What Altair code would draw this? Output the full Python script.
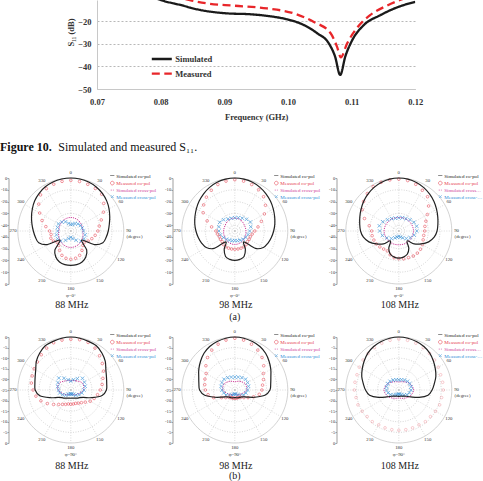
import altair as alt
import pandas as pd

SERIF = "Liberation Serif"

# ---------------- Figure 10 : S11 ----------------
S11_SERIES = ["Simulated", "Measured"]
S11_FREQ_SIM = [0.0780, 0.0800, 0.0831, 0.0862, 0.0904, 0.0941, 0.0967, 0.0998, 0.1019, 0.1046,
                0.1064, 0.1074, 0.1082, 0.1090, 0.1101, 0.1119, 0.1145, 0.1171, 0.1200]
S11_DB_SIM = [-8.5, -10.7, -12.9, -15.1, -16.6, -17.0, -17.7, -19.2, -21.0, -25.4,
              -29.8, -35.7, -43.8, -35.7, -28.4, -21.8, -17.4, -14.0, -11.5]
S11_FREQ_MEAS = [0.0820, 0.0849, 0.0873, 0.0915, 0.0967, 0.1009, 0.1040, 0.1067, 0.1077, 0.1083,
                 0.1093, 0.1108, 0.1129, 0.1156, 0.1176, 0.1200]
S11_DB_MEAS = [-9.0, -11.0, -12.2, -13.2, -14.4, -16.6, -20.3, -25.4, -31.3, -36.0,
               -29.8, -23.2, -17.4, -13.1, -10.7, -8.5]
S11_X_TICKS = [0.07, 0.08, 0.09, 0.10, 0.11, 0.12]
S11_Y_TICKS = [-50, -40, -30, -20]

# ---------------- radiation patterns ----------------
POL_SERIES = ["Simulated co-pol", "Measured co-pol", "Simulated cross-pol", "Measured cross-pol"]
FREQ_LABELS = ["88 MHz", "98 MHz", "108 MHz"]
PHI_LABELS = ["φ=0°", "φ=90°"]
ROW_LABELS = ["(a)", "(b)"]
ANG_CO = list(range(0, 360, 10))
ANG_MX = list(range(0, 360, 15))
ANG_SX = list(range(0, 360, 30))
ANGLE_LABELS = list(range(0, 360, 30))
RINGS_A = [0, -10, -20, -30, -40]
RINGS_B = [0, -5, -10, -15, -20]
CENTRE_A = -45.0
CENTRE_B = -25.0

# row (a): phi = 0 deg
A88_SIM_CO = [0, -0.2, -0.8, -1.8, -3.3, -5.2, -7.5, -9.8, -11.8, -13.2,
              -14.5, -16, -22, -33, -24, -19.5, -17, -16, -15.8,
              -16, -17, -19.5, -24, -33, -22, -16, -14.5, -13.2,
              -11.5, -9.5, -7.3, -5.0, -3.2, -1.7, -0.7, -0.2]
A88_MEAS_CO = [-2, -2.3, -2.8, -3.3, -4.2, -8.5, -13, -17.5, -20.5, -22,
               -24, -26, -28, -30, -29, -26, -23, -21.5, -21,
               -21.5, -23, -26, -29, -30, -28, -27, -28, -27,
               -23.5, -19, -14.5, -9.5, -5, -3.5, -2.7, -2.2]
A88_SIM_X = [-33.5, -33.8, -34.5, -34.8, -33.5, -31.8, -31, -31.8, -33.5, -34.8, -34.5, -33.8]
A88_MEAS_X = [-39.5, -39, -37.8, -36.5, -35.5, -35, -34.2, -32.4, -32, -32.9, -36, -38.3,
              -39.6, -38.3, -36, -32.9, -32, -32.4, -33.8, -33.3, -32.9, -34.2, -36, -38.3]

A98_SIM_CO = [0, -0.3, -1, -2.2, -3.8, -5.5, -7.3, -9, -10.5, -12,
              -13.5, -15, -17, -22, -33, -27, -22, -20.5, -20,
              -20.5, -22, -27, -33, -22, -17, -15, -13.5, -12,
              -10.5, -9, -7.3, -5.5, -3.8, -2.2, -1, -0.3]
A98_MEAS_CO = [-1.5, -2, -3, -4.5, -7, -11, -16, -21, -25, -28,
               -30, -31, -31, -31, -30, -29.5, -29.5, -29.5, -29.5,
               -29.5, -29.5, -29.5, -30, -31, -31, -31, -30, -29,
               -25, -20, -14, -10.5, -7.5, -5, -3, -2]
A98_SIM_X = [-34, -34.5, -35.5, -35.5, -35, -34, -33.5, -34, -35, -35.5, -35.5, -34.5]
A98_MEAS_X = [-33.8, -33.3, -32.4, -31, -29.7, -31, -32.4, -33.3, -34.2, -35.1, -36, -36.5,
              -36.9, -36.5, -36, -35.1, -33.8, -32.4, -31.5, -31, -30.2, -31.5, -33.3, -33.8]

A108_SIM_CO = [0, -0.3, -1.2, -2.5, -4.2, -6, -8, -9.8, -11.3, -12.5,
               -14.5, -18, -23, -28, -34, -28, -24, -22.5, -22,
               -22.5, -24, -28, -34, -28, -23, -18, -14.5, -12.5,
               -11.3, -9.8, -8, -6, -4.2, -2.5, -1.2, -0.3]
A108_MEAS_CO = [-1, -1.5, -2.8, -5, -7, -12, -17, -20.5, -22.5, -23,
                -23.5, -23, -22, -21, -20.5, -20.5, -21, -21, -21.5,
                -22, -23.5, -25.5, -25, -24, -23, -22.5, -22, -22,
                -19.5, -14, -9, -6, -3.5, -1.5, -1, -1]
A108_SIM_X = [-33.5, -33.2, -32.8, -32.5, -32.8, -33, -33.3, -33, -32.8, -32.5, -32.8, -33.2]
A108_MEAS_X = [-33.8, -33.3, -32.9, -31.5, -30.2, -29.3, -29.7, -31.5, -33.8, -36, -38.3, -39.6,
               -40.5, -39.6, -38.3, -36, -33.3, -30.6, -28.8, -27.9, -29.3, -31.5, -32.9, -33.8]

# row (b): phi = 90 deg
B88_SIM_CO = [0, -0.2, -0.6, -0.9, -2.2, -3.8, -5.9, -7.1, -7.8, -8.2,
              -10, -14.4, -18, -19.4, -20, -20.6, -20.9, -21.1, -21.1,
              -21.1, -20.9, -20.6, -20, -19.4, -18, -14.4, -10, -8.2,
              -7.8, -7.1, -5.9, -3.8, -2.2, -0.9, -0.6, -0.2]
B88_MEAS_CO = [-1.1, -0.9, -1.1, -2.2, -3.9, -5.6, -7.2, -8.9, -10, -11.1,
               -12.2, -13.3, -14.4, -16.1, -17.2, -17.8, -18.3, -18.3, -18.3,
               -18.3, -17.8, -17.2, -16.1, -14.4, -12.2, -10, -8.3, -7.2,
               -6.1, -5.6, -5, -4.4, -3.3, -2.2, -1.3, -1.1]
B88_SIM_X = [-20.6, -20, -18.6, -19, -21.2, -22.4, -23, -22.4, -21.2, -19, -18.6, -20]
B88_MEAS_X = [-20.8, -20, -18.8, -17.2, -17.6, -18, -18.8, -19.6, -20.6, -21.6, -22.6, -23,
              -23.2, -23, -22.6, -21.6, -20.6, -19.6, -19.2, -18.6, -18, -17, -18.6, -20]

B98_SIM_CO = [0, -0.2, -0.7, -1.3, -2.4, -3.9, -5.4, -6.9, -7.8, -8.4,
              -10.6, -15, -18.3, -20, -20.6, -20.9, -21.1, -21.3, -21.4,
              -21.3, -21.1, -20.9, -20.6, -20, -18.3, -15, -10.6, -8.4,
              -7.8, -6.9, -5.4, -3.9, -2.4, -1.3, -0.7, -0.2]
B98_MEAS_CO = [-0.6, -1.1, -2, -3.3, -5, -7.2, -9.4, -10.6, -11.7, -12.2,
               -13.3, -15.6, -17.8, -19.4, -20.6, -21.1, -21.1, -21.1, -21.1,
               -21.1, -21.1, -21.1, -20.6, -19.4, -17.8, -14.4, -12.2, -11.1,
               -10.6, -10, -9.4, -7.2, -5, -3.3, -2, -1.1]
B98_SIM_X = [-21.1, -20.3, -19.2, -19.4, -21.4, -22.6, -23.1, -22.6, -21.4, -19.4, -19.2, -20.3]
B98_MEAS_X = [-18.9, -18.7, -18.3, -17.8, -18, -18.3, -18.9, -19.6, -20.3, -21.3, -22.2, -22.9,
              -23.1, -22.9, -22.2, -21.3, -20.3, -19.6, -18.9, -18.3, -18, -17.8, -18.3, -18.7]

B108_SIM_CO = [0, -0.2, -0.7, -1.3, -2.3, -3.7, -5.1, -6.4, -8.0, -9.3,
               -11, -14.8, -18.5, -20.4, -21.2, -21.6, -21.9, -22, -22,
               -22, -21.9, -21.6, -21.2, -20.4, -18.5, -14.8, -11, -9.3,
               -8.0, -6.4, -5.1, -3.7, -2.3, -1.3, -0.7, -0.2]
B108_MEAS_CO = [-1, -1.2, -1.5, -2, -2.5, -3, -3.5, -4, -4, -4,
                -4.5, -4.5, -5, -5.5, -5.5, -6, -6, -6, -6,
                -6, -6, -6, -5.5, -5.5, -5, -4.5, -4.5, -4,
                -4, -4, -3.5, -3, -2.5, -2, -1.5, -1.2]
B108_SIM_X = [-21.2, -20.5, -19, -18, -19, -20.5, -21.2, -20.5, -19, -18, -19, -20.5]
B108_MEAS_X = [-20.2, -20, -19.6, -19.2, -19, -19, -19.2, -19.8, -20.6, -21.6, -22.4, -22.9,
               -23.1, -22.9, -22.4, -21.6, -20.6, -19.8, -19.2, -19, -19, -19.2, -19.6, -20]

# ---------------- styling ----------------
BLACK = "#222222"
RED = "#e6404f"
MAGENTA = "#cf3e9a"
BLUE = "#2f8fd8"
X_PATH = "M-1,-1L1,1M-1,1L1,-1"
POL_COLORS = [BLACK, RED, MAGENTA, BLUE]
POL_SHAPES = ["stroke", "circle", "stroke", X_PATH]
POL_DASHES = [[1, 0], [1, 0], [1.2, 1], [1, 0]]
POL_SIZES = [16, 7, 16, 12]
LABEL_FILL = ("datum.value == 'Measured co-pol' ? '%s' : datum.value == 'Simulated cross-pol' ? '%s' : "
              "datum.value == 'Measured cross-pol' ? '%s' : '%s'" % (RED, MAGENTA, BLUE, BLACK))

R = 53.0      # pixels per unit radius
CX = 70.8     # circle centre inside a panel
PANEL_W = [164, 164, 155]
PANEL_H = 106


def dummy():
    return alt.Chart(pd.DataFrame({"k": [0]}))


def anchor(top, bottom):
    # invisible vertical rule that fixes the vertical extent of a row
    return dummy().mark_rule(opacity=0, strokeWidth=0.01).encode(
        x=alt.value(0), y=alt.value(top), y2=alt.value(bottom))


def polar_panel(sim_co, meas_co, sim_x, meas_x, centre, rings, centre_tick, phi, freq, width,
                label_limit, freq_dy, row_label=None, row_dy=0, co_opacity=0.9, band=None):
    span = -centre
    xs = alt.Scale(domain=[-CX / R, (width - CX) / R], nice=False, zero=False)
    ys = alt.Scale(domain=[-1, 1], nice=False, zero=False)
    ticks = [(rv + span) / span for rv in rings] + [-(rv + span) / span for rv in rings]
    if centre_tick:
        ticks.append(0)
    ticks = sorted(ticks)
    yaxis = alt.Axis(values=ticks, labelExpr=f"round(abs(datum.value) * {span} - {span})",
                     offset=-8.5, title=None, grid=False, domainColor="#777", domainWidth=0.7,
                     tickColor="#777", tickSize=1.5, tickWidth=0.6, labelFont=SERIF,
                     labelFontSize=4.6, labelColor="#333", labelPadding=0.3,
                     labelOverlap=False, labelFlush=False)

    def X(f):
        return alt.X(f"{f}:Q", scale=xs, axis=None)

    def Y(f):
        return alt.Y(f"{f}:Q", scale=ys, axis=yaxis)

    def xy(df, r_expr):
        return (alt.Chart(df).transform_calculate(r=r_expr)
                .transform_calculate(x="datum.r * sin(datum.ang * PI / 180)",
                                     y="datum.r * cos(datum.ang * PI / 180)"))

    db_r = f"max(0, (datum.db + {span}) / {span})"

    ring_df = pd.DataFrame([(rv, a) for rv in rings for a in range(0, 361, 4)], columns=["db", "ang"])
    ring_base = xy(ring_df, db_r)
    outer = ring_base.transform_filter("datum.db == 0").mark_line(
        color="#b5b5b5", strokeWidth=0.6).encode(x=X("x"), y=Y("y"), order="ang:Q", detail="db:N")
    inner = ring_base.transform_filter("datum.db != 0").mark_line(
        color="#bbbbbb", strokeWidth=0.6, strokeDash=[1, 1.5]).encode(
        x=X("x"), y=Y("y"), order="ang:Q", detail="db:N")

    spokes = alt.Chart(pd.DataFrame({"ang": ANGLE_LABELS})).transform_calculate(
        x0="0", y0="0", x1="sin(datum.ang * PI / 180)", y1="cos(datum.ang * PI / 180)"
    ).mark_rule(color="#c4c4c4", strokeWidth=0.6, strokeDash=[1, 1.5]).encode(
        x=X("x0"), y=Y("y0"), x2="x1:Q", y2="y1:Q")

    lab_base = xy(pd.DataFrame({"ang": ANGLE_LABELS}), "1.09")
    txt = dict(font=SERIF, fontSize=4.8, color="#333")
    layers = [outer, inner, spokes,
              lab_base.mark_text(**txt).encode(x=X("x"), y=Y("y"), text=alt.Text("ang:Q", format="d")),
              lab_base.transform_filter("datum.ang == 90").mark_text(
                  align="left", dx=-2, dy=6, text="(degree)", **txt).encode(x=X("x"), y=Y("y")),
              lab_base.transform_filter("datum.ang == 180").mark_text(
                  dy=7, text=phi, **txt).encode(x=X("x"), y=Y("y")),
              lab_base.transform_filter("datum.ang == 180").mark_text(
                  dy=freq_dy, dx=1, text=freq, font=SERIF, fontSize=10, color=BLACK,
                  baseline="middle").encode(x=X("x"), y=Y("y"))]
    if row_label:
        layers.append(lab_base.transform_filter("datum.ang == 180").mark_text(
            dy=row_dy, text=row_label, font=SERIF, fontSize=10, color=BLACK,
            baseline="middle").encode(x=X("x"), y=Y("y")))

    layers += [
        xy(pd.DataFrame({"ang": ANG_SX, "db": sim_x}), db_r).mark_line(
            interpolate="cardinal-closed", color=MAGENTA, strokeWidth=1.0, strokeDash=[1.2, 1]).encode(
            x=X("x"), y=Y("y"), order="ang:Q"),
        xy(pd.DataFrame({"ang": ANG_MX, "db": meas_x}), db_r).mark_point(
            shape=X_PATH, filled=False, size=12, strokeWidth=0.9, color=BLUE).encode(
            x=X("x"), y=Y("y")),
        xy(pd.DataFrame({"ang": ANG_CO, "db": meas_co}), db_r).mark_point(
            shape="circle", filled=False, size=7, strokeWidth=0.6, color=RED, opacity=co_opacity).encode(
            x=X("x"), y=Y("y")),
        xy(pd.DataFrame({"ang": ANG_CO, "db": sim_co}), db_r).mark_line(
            interpolate="cardinal-closed", color=BLACK, strokeWidth=1.2).encode(
            x=X("x"), y=Y("y"), order="ang:Q"),
    ]

    leg = alt.Legend(title=None, orient="none", legendX=CX + 39, legendY=-5, padding=0,
                     labelFont=SERIF, labelFontSize=5.0, labelLimit=label_limit, labelOffset=1.5,
                     rowPadding=-0.4, symbolStrokeWidth=0.9, labelColor={"expr": LABEL_FILL})
    layers.append(alt.Chart(pd.DataFrame({"s": POL_SERIES})).transform_filter(
        "datum.s == 'none'").mark_point(filled=False, strokeWidth=0.9).encode(
        color=alt.Color("s:N", scale=alt.Scale(domain=POL_SERIES, range=POL_COLORS), legend=leg),
        shape=alt.Shape("s:N", scale=alt.Scale(domain=POL_SERIES, range=POL_SHAPES), legend=leg),
        strokeDash=alt.StrokeDash("s:N", scale=alt.Scale(domain=POL_SERIES, range=POL_DASHES), legend=leg),
        size=alt.Size("s:N", scale=alt.Scale(domain=POL_SERIES, range=POL_SIZES), legend=leg),
    ))
    if band:
        layers.append(anchor(*band))
    return alt.layer(*layers).properties(width=width, height=PANEL_H)


# ---------------- S11 chart ----------------
s11_df = pd.concat([
    pd.DataFrame({"f": S11_FREQ_SIM, "db": S11_DB_SIM, "s": S11_SERIES[0]}),
    pd.DataFrame({"f": S11_FREQ_MEAS, "db": S11_DB_MEAS, "s": S11_SERIES[1]}),
])
s11_leg = alt.Legend(title=None, orient="none", legendX=53.3, legendY=55, padding=0,
                     labelFont=SERIF, labelFontSize=8.5, labelFontWeight="bold", labelColor="#333",
                     labelOffset=2, rowPadding=5.7, clipHeight=8, symbolSize=400,
                     symbolStrokeWidth=2.3, symbolType="stroke")
s11 = alt.Chart(s11_df).mark_line(clip=True, interpolate="monotone", strokeWidth=2.3).encode(
    x=alt.X("f:Q", scale=alt.Scale(domain=[0.07, 0.12], nice=False, zero=False),
            axis=alt.Axis(values=S11_X_TICKS, format=".2f", title="Frequency (GHz)", ticks=False,
                          grid=False, domainColor="#c8c8c8", labelFont=SERIF, labelFontSize=8.5,
                          labelFontWeight="bold", labelColor="#333", labelPadding=8.4,
                          titleFont=SERIF, titleFontSize=8.5, titleFontWeight="bold",
                          titleColor="#333", titlePadding=6.5, labelFlush=False)),
    y=alt.Y("db:Q", scale=alt.Scale(domain=[-50, -10.7], nice=False, zero=False),
            axis=alt.Axis(values=S11_Y_TICKS, title="S₁₁ (dB)", ticks=False, grid=True,
                          gridDash=[2, 2], gridColor="#9a9a9a", gridWidth=0.7,
                          domainColor="#c8c8c8", labelFont=SERIF, labelFontSize=8.5,
                          labelFontWeight="bold", labelColor="#333", labelPadding=6,
                          titleFont=SERIF, titleFontSize=8.5, titleFontWeight="bold",
                          titleColor="#333", titleX=-26.7, titleY=32, titleBaseline="middle",
                          titleAlign="center", titleAngle=270)),
    color=alt.Color("s:N", scale=alt.Scale(domain=S11_SERIES, range=["#1a1a1a", "#e8262a"]),
                    legend=s11_leg),
    strokeDash=alt.StrokeDash("s:N", scale=alt.Scale(domain=S11_SERIES, range=[[1, 0], [8, 4.5]]),
                              legend=s11_leg),
).properties(width=318.3, height=89)

# left block of the first row: caption of Figure 10 + row anchor
cap1 = dummy().mark_text(text="Figure 10.", font=SERIF, fontWeight="bold", fontSize=12,
                         align="left", baseline="middle", color="#111").encode(
    x=alt.value(0), y=alt.value(146.7))
cap2 = dummy().mark_text(text="Simulated and measured S₁₁.", font=SERIF, fontSize=12,
                         align="left", baseline="middle", color="#111").encode(
    x=alt.value(58.3), y=alt.value(146.7))
left_block = alt.layer(cap1, cap2, anchor(0, 167.5)).properties(width=96.7, height=89)

RES = dict(color="independent", shape="independent", strokeDash="independent", size="independent")

row_s11 = alt.hconcat(left_block, s11, spacing=0, bounds="flush").resolve_scale(
    color="independent", strokeDash="independent")

row_a = alt.hconcat(
    polar_panel(A88_SIM_CO, A88_MEAS_CO, A88_SIM_X, A88_MEAS_X, CENTRE_A, RINGS_A, False,
                PHI_LABELS[0], FREQ_LABELS[0], PANEL_W[0], 60, 16, band=(-10, 149)),
    polar_panel(A98_SIM_CO, A98_MEAS_CO, A98_SIM_X, A98_MEAS_X, CENTRE_A, RINGS_A, False,
                PHI_LABELS[0], FREQ_LABELS[1], PANEL_W[1], 60, 16, row_label=ROW_LABELS[0], row_dy=28.4),
    polar_panel(A108_SIM_CO, A108_MEAS_CO, A108_SIM_X, A108_MEAS_X, CENTRE_A, RINGS_A, False,
                PHI_LABELS[0], FREQ_LABELS[2], PANEL_W[2], 38, 16),
    spacing=0, bounds="flush").resolve_scale(**RES)

row_b = alt.hconcat(
    polar_panel(B88_SIM_CO, B88_MEAS_CO, B88_SIM_X, B88_MEAS_X, CENTRE_B, RINGS_B, True,
                PHI_LABELS[1], FREQ_LABELS[0], PANEL_W[0], 60, 18.4, band=(-10, 144.5)),
    polar_panel(B98_SIM_CO, B98_MEAS_CO, B98_SIM_X, B98_MEAS_X, CENTRE_B, RINGS_B, True,
                PHI_LABELS[1], FREQ_LABELS[1], PANEL_W[1], 60, 18.4, row_label=ROW_LABELS[1], row_dy=28.5),
    polar_panel(B108_SIM_CO, B108_MEAS_CO, B108_SIM_X, B108_MEAS_X, CENTRE_B, RINGS_B, True,
                PHI_LABELS[1], FREQ_LABELS[2], PANEL_W[2], 38, 18.4, co_opacity=0.45),
    spacing=0, bounds="flush").resolve_scale(**RES)

chart = alt.vconcat(row_s11, row_a, row_b, spacing=0).resolve_scale(**RES).properties(
    padding=0).configure(font=SERIF).configure_view(stroke=None)

chart.save("out.html", embed_options={"renderer": "svg", "actions": False})
